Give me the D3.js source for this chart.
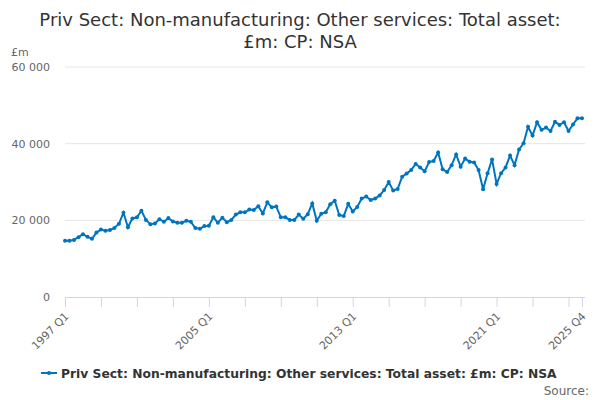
<!DOCTYPE html>
<html>
<head>
<meta charset="utf-8">
<script src="https://cdn.jsdelivr.net/npm/d3@7"></script>
<style>
  body { margin: 0; background: #fff; }
  svg { font-family: "DejaVu Sans", sans-serif; }
</style>
</head>
<body>
<script>
// quarters from 1997 Q1 to 2025 Q4
let years = d3.range(1997, 2026)
let quarters = ["Q1", "Q2", "Q3", "Q4"]
let categories = years.flatMap(y => quarters.map(q => y + " " + q))

// £m
let values = [
  14700, 14700, 14900, 15600, 16400, 15700, 15200, 16800,
  17600, 17300, 17500, 18000, 19100, 22000, 18200, 20500,
  20800, 22500, 20100, 19000, 19200, 20300, 19600, 20600,
  19700, 19400, 19400, 19900, 19600, 18000, 17800, 18500,
  18600, 20800, 19400, 20700, 19500, 20100, 21500, 22100,
  22100, 22800, 22700, 23700, 21800, 24700, 23400, 23600,
  20800, 20800, 20100, 20100, 21500, 20400, 21600, 24400,
  19900, 21700, 22100, 24200, 25100, 21400, 21100, 24300,
  22300, 23500, 25700, 26200, 25300, 25700, 26500, 27900,
  30000, 27800, 28200, 31400, 32200, 33100, 34700, 33800,
  32800, 35200, 35500, 37700, 33300, 32600, 34400, 37200,
  34000, 36100, 35300, 35100, 33100, 28100, 32300, 35900,
  29500, 32300, 33800, 36900, 34400, 38500, 40100, 44400,
  42100, 45600, 43600, 44200, 43300, 45700, 44900, 45600,
  43300, 45000, 46600, 46600
]

let yTicks = [0, 20000, 40000, 60000]
let labelTicks = ["1997 Q1", "2005 Q1", "2013 Q1", "2021 Q1", "2025 Q4"]
let seriesName = "Priv Sect: Non-manufacturing: Other services: Total asset: £m: CP: NSA"

let width = 600, height = 400
let margin = { top: 67, left: 65, right: 18, bottom: 103 }
let color = "#0075bf"

let svg = d3.select("body")
  .append("svg")
  .attr("width", width)
  .attr("height", height)

let x = d3.scalePoint().domain(categories).range([margin.left, width - margin.right])
let y = d3.scaleLinear().domain([0, 60000]).range([height - margin.bottom, margin.top])

// title
svg.append("text")
  .attr("x", width / 2).attr("y", 26)
  .attr("text-anchor", "middle")
  .attr("font-size", 18).attr("fill", "#333")
  .selectAll("tspan")
  .data(["Priv Sect: Non-manufacturing: Other services: Total asset:", "£m: CP: NSA"])
  .join("tspan")
  .attr("x", width / 2)
  .attr("dy", (d, i) => i ? 22 : 0)
  .text(d => d)

// unit label
svg.append("text")
  .attr("x", 11).attr("y", 56)
  .attr("font-size", 11).attr("fill", "#666")
  .text("£m")

// gridlines + y labels
let fmt = v => d3.format(",")(v).replace(/,/g, " ")
svg.append("g")
  .selectAll("line")
  .data(yTicks.filter(d => d > 0))
  .join("line")
  .attr("x1", margin.left).attr("x2", width - 15)
  .attr("y1", d => y(d)).attr("y2", d => y(d))
  .attr("stroke", "#e6e6e6")

svg.append("g")
  .selectAll("text")
  .data(yTicks)
  .join("text")
  .attr("x", 50).attr("y", d => y(d) + 4)
  .attr("text-anchor", "end")
  .attr("font-size", 11).attr("fill", "#666")
  .text(fmt)

// x axis
let tickCats = categories.filter((d, i) => i % 8 == 0).concat([categories[categories.length - 1]])
let xAxis = d3.axisBottom(x)
  .tickValues(tickCats)
  .tickSize(10)
  .tickFormat(d => labelTicks.includes(d) ? d : "")

let gx = svg.append("g")
  .attr("transform", `translate(0,${y(0)})`)
  .call(xAxis)
gx.select(".domain").attr("stroke", "#ccd6eb").attr("d", `M${margin.left},0.5H${width - 15}`)
gx.selectAll(".tick line").attr("stroke", "#ccd6eb")
gx.selectAll(".tick text")
  .attr("font-family", "DejaVu Sans, sans-serif")
  .attr("font-size", 11).attr("fill", "#666")
  .attr("text-anchor", "end")
  .attr("y", 0).attr("dy", 0)
  .attr("transform", "translate(4,20) rotate(-45)")

// series
let line = d3.line().x((d, i) => x(categories[i])).y(d => y(d))
svg.append("path")
  .datum(values)
  .attr("d", line)
  .attr("fill", "none")
  .attr("stroke", color)
  .attr("stroke-width", 2)

svg.append("g")
  .selectAll("circle")
  .data(values)
  .join("circle")
  .attr("cx", (d, i) => x(categories[i]))
  .attr("cy", d => y(d))
  .attr("r", 2)
  .attr("fill", color)

// legend
let lg = svg.append("g").attr("transform", "translate(41,373)")
lg.append("line").attr("x1", 0).attr("x2", 16).attr("stroke", color).attr("stroke-width", 2)
lg.append("circle").attr("cx", 8).attr("r", 2).attr("fill", color)
lg.append("text")
  .attr("x", 20).attr("y", 4.5)
  .attr("font-size", 12.3).attr("font-weight", "bold").attr("fill", "#333")
  .text(seriesName)

svg.append("text")
  .attr("x", 589).attr("y", 395)
  .attr("text-anchor", "end")
  .attr("font-size", 12).attr("fill", "#666")
  .text("Source:")
</script>
</body>
</html>
